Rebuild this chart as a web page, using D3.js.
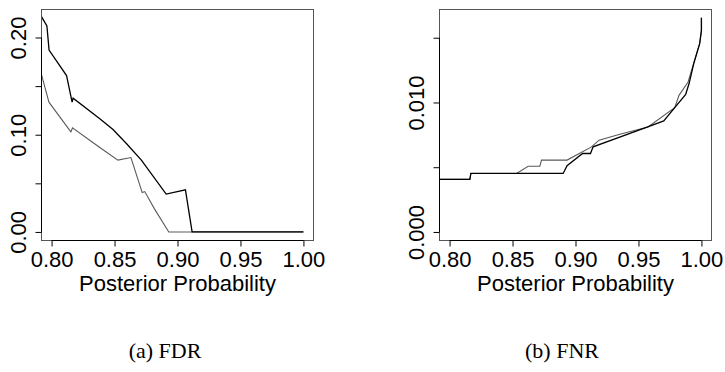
<!DOCTYPE html>
<html>
<head>
<meta charset="utf-8">
<script src="https://cdn.jsdelivr.net/npm/d3@7"></script>
<style>
  body { margin: 0; background: #fff; }
  svg { display: block; }
</style>
</head>
<body>
<div id="chart"></div>
<script>
// x ticks shared by both panels
const xTicks = [0.80, 0.85, 0.90, 0.95, 1.00];
const xTickLabels = ["0.80", "0.85", "0.90", "0.95", "1.00"];

// (a) FDR
const fdrTicks = [0.00, 0.05, 0.10, 0.15, 0.20];
const fdrTickLabels = ["0.00", "", "0.10", "", "0.20"];
const fdrBlackX = [0.792, 0.7963, 0.798, 0.8119, 0.8163, 0.8171, 0.8383, 0.8488, 0.8594, 0.8713, 0.891, 0.9063, 0.9116, 1.0];
const fdrBlackY = [0.2214, 0.212, 0.187, 0.1608, 0.1335, 0.1376, 0.1165, 0.1053, 0.091, 0.0739, 0.0389, 0.0433, 0.0, 0.0];
const fdrGreyX = [0.792, 0.7979, 0.8153, 0.8166, 0.8383, 0.8527, 0.863, 0.872, 0.874, 0.8818, 0.8931, 1.0];
const fdrGreyY = [0.1619, 0.1335, 0.1029, 0.107, 0.0869, 0.0739, 0.0765, 0.0405, 0.0415, 0.0235, 0.0, 0.0];

// (b) FNR
const fnrTicks = [0.000, 0.005, 0.010, 0.015];
const fnrTickLabels = ["0.000", "", "0.010", ""];
const fnrBlackX = [0.792, 0.8161, 0.8169, 0.8902, 0.8933, 0.9056, 0.9119, 0.914, 0.9563, 0.9701, 0.9788, 0.9875, 0.9902, 0.9939, 0.9986, 1.0, 1.0];
const fnrBlackY = [0.00406, 0.00406, 0.00452, 0.00452, 0.00511, 0.00606, 0.00606, 0.00657, 0.00807, 0.00858, 0.0096, 0.01063, 0.01146, 0.013, 0.01454, 0.01556, 0.01654];
const fnrGreyX = [0.792, 0.8161, 0.8169, 0.8532, 0.8624, 0.8717, 0.873, 0.8933, 0.9127, 0.9187, 0.9352, 0.9576, 0.9788, 0.9822, 0.9894, 0.9941, 0.9986, 1.0, 1.0];
const fnrGreyY = [0.00406, 0.00406, 0.00452, 0.00452, 0.00508, 0.00508, 0.00555, 0.00555, 0.00657, 0.00709, 0.00755, 0.00811, 0.0096, 0.01055, 0.01158, 0.01312, 0.01454, 0.01556, 0.01654];

const width = 725;
const height = 372;
const sansFont = "'Liberation Sans', Arial, sans-serif";
const serifFont = "'Liberation Serif', 'Times New Roman', serif";

const svg = d3.select("#chart")
  .append("svg")
  .attr("width", width)
  .attr("height", height);

function zip(xs, ys) {
  return xs.map((x, i) => [x, ys[i]]);
}

function drawPanel(opts) {
  const box = opts.box;
  const x = d3.scaleLinear().domain([0.792, 1.008]).range([box.left, box.right]);
  const y = d3.scaleLinear().domain(opts.yDomain).range([box.bottom, box.top]);

  const g = svg.append("g");

  g.append("clipPath")
    .attr("id", opts.id + "-clip")
    .append("rect")
    .attr("x", box.left)
    .attr("y", box.top)
    .attr("width", box.right - box.left)
    .attr("height", box.bottom - box.top);

  const line = d3.line()
    .x(d => x(d[0]))
    .y(d => y(d[1]));

  const lines = g.append("g").attr("clip-path", `url(#${opts.id}-clip)`);
  lines.append("path")
    .datum(zip(opts.greyX, opts.greyY))
    .attr("d", line)
    .attr("fill", "none")
    .attr("stroke", "#5a5a5a")
    .attr("stroke-width", 1.1);
  lines.append("path")
    .datum(zip(opts.blackX, opts.blackY))
    .attr("d", line)
    .attr("fill", "none")
    .attr("stroke", "#000")
    .attr("stroke-width", 1.3);

  // frame
  g.append("rect")
    .attr("x", box.left)
    .attr("y", box.top)
    .attr("width", box.right - box.left)
    .attr("height", box.bottom - box.top)
    .attr("fill", "none")
    .attr("stroke", "#555")
    .attr("stroke-width", 1);

  // x axis
  const xAxis = d3.axisBottom(x)
    .tickValues(xTicks)
    .tickSize(6)
    .tickFormat((d, i) => xTickLabels[i]);
  const gx = g.append("g")
    .attr("transform", `translate(0,${box.bottom})`)
    .call(xAxis);
  gx.select(".domain")
    .attr("d", `M${x(xTicks[0])},0H${x(xTicks[xTicks.length - 1])}`)
    .attr("stroke", "#000");
  gx.selectAll("text")
    .attr("y", 26)
    .attr("dy", null)
    .style("font-family", sansFont)
    .style("font-size", "22px")
    .attr("fill", "#000");

  // y axis, labels rotated like base R
  const yAxis = d3.axisLeft(y)
    .tickValues(opts.yTicks)
    .tickSize(6)
    .tickFormat((d, i) => opts.yTickLabels[i]);
  const gy = g.append("g")
    .attr("transform", `translate(${box.left},0)`)
    .call(yAxis);
  gy.select(".domain")
    .attr("d", `M0,${y(opts.yTicks[0])}V${y(opts.yTicks[opts.yTicks.length - 1])}`)
    .attr("stroke", "#000");
  gy.selectAll(".tick text")
    .attr("x", null)
    .attr("dy", null)
    .attr("text-anchor", "middle")
    .attr("transform", `translate(${opts.labelX - box.left},0) rotate(-90)`)
    .style("font-family", sansFont)
    .style("font-size", "22px")
    .attr("fill", "#000");

  // axis title
  g.append("text")
    .attr("x", (x(0.8) + x(1.0)) / 2)
    .attr("y", 291)
    .attr("text-anchor", "middle")
    .style("font-family", sansFont)
    .style("font-size", "22px")
    .text("Posterior Probability");

  // caption
  g.append("text")
    .attr("x", opts.captionX)
    .attr("y", 358)
    .attr("text-anchor", "middle")
    .style("font-family", serifFont)
    .style("font-size", "22px")
    .text(opts.caption);
}

drawPanel({
  id: "fdr",
  box: {left: 41.5, right: 313.5, top: 9.5, bottom: 240.5},
  yDomain: [-0.0088, 0.2288],
  yTicks: fdrTicks,
  yTickLabels: fdrTickLabels,
  labelX: 25.5,
  blackX: fdrBlackX, blackY: fdrBlackY,
  greyX: fdrGreyX, greyY: fdrGreyY,
  caption: "(a) FDR",
  captionX: 165
});

drawPanel({
  id: "fnr",
  box: {left: 439.5, right: 711.5, top: 9.5, bottom: 240.5},
  yDomain: [-0.00066, 0.01718],
  yTicks: fnrTicks,
  yTickLabels: fnrTickLabels,
  labelX: 423.5,
  blackX: fnrBlackX, blackY: fnrBlackY,
  greyX: fnrGreyX, greyY: fnrGreyY,
  caption: "(b) FNR",
  captionX: 562
});
</script>
</body>
</html>
